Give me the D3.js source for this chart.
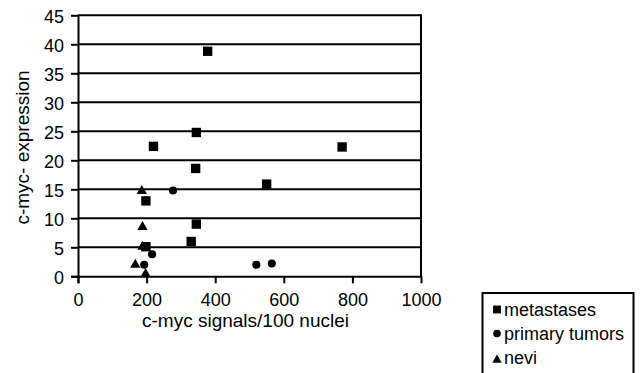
<!DOCTYPE html>
<html>
<head>
<meta charset="utf-8">
<script src="https://cdn.jsdelivr.net/npm/d3@7"></script>
<style>
  body { margin: 0; background: #fff; }
  text { font-family: "Liberation Sans", Arial, Helvetica, sans-serif; fill: #000; }
</style>
</head>
<body>
<svg id="chartSVG" width="643" height="373"></svg>
<script>
const xTicks = [0, 200, 400, 600, 800, 1000];
const yTicks = [0, 5, 10, 15, 20, 25, 30, 35, 40, 45];

const metastasesX = [378, 345, 220, 343, 550, 198, 345, 330, 198, 770];
const metastasesY = [38.8, 24.8, 22.4, 18.6, 15.9, 13.0, 9.0, 6.0, 5.1, 22.3];

const primaryX = [277, 216, 193, 520, 565];
const primaryY = [14.8, 3.8, 2.0, 2.0, 2.2];

const neviX = [186, 188, 188, 167, 197];
const neviY = [14.7, 8.5, 5.1, 2.0, 0.4];

const seriesNames = ["metastases", "primary tumors", "nevi"];

function drawChart() {
  let svg = d3.select("#chartSVG");

  let x = d3.scaleLinear().domain([0, 1000]).range([78, 421]);
  let y = d3.scaleLinear().domain([0, 45]).range([276.3, 15.3]);

  // horizontal grid lines (black, like the original)
  svg.append("g")
    .selectAll("line")
    .data(yTicks.slice(1))
    .enter()
    .append("line")
    .attr("x1", x(0))
    .attr("x2", x(1000))
    .attr("y1", (d) => y(d))
    .attr("y2", (d) => y(d))
    .style("stroke", "#000")
    .style("stroke-width", 2);

  // right frame line
  svg.append("line")
    .attr("x1", x(1000)).attr("x2", x(1000))
    .attr("y1", y(45) - 1).attr("y2", y(0))
    .style("stroke", "#000")
    .style("stroke-width", 2);

  let xAxis = svg.append("g")
    .attr("transform", `translate(0,${y(0)})`)
    .call(d3.axisBottom(x).tickValues(xTicks).tickSize(7).tickPadding(10).tickFormat(d3.format("d")));

  let yAxis = svg.append("g")
    .attr("transform", `translate(${x(0)},0)`)
    .call(d3.axisLeft(y).tickValues(yTicks).tickSize(7).tickPadding(7));

  [xAxis, yAxis].forEach((g) => {
    g.select(".domain").style("stroke", "#000").style("stroke-width", 2);
    g.selectAll(".tick line").style("stroke", "#000").style("stroke-width", 2);
    g.selectAll(".tick text")
      .style("font-size", "18px")
      .style("font-family", '"Liberation Sans", Arial, sans-serif');
  });
  xAxis.select(".domain").attr("d", `M${x(0) - 7},0.5H${x(1000) + 1}`);
  yAxis.select(".domain").attr("d", `M0.5,${y(45)}V${y(0) + 7}`);
  yAxis.selectAll(".tick text").attr("dy", "0.42em");

  // axis titles
  svg.append("text")
    .attr("x", 245.5)
    .attr("y", 327)
    .attr("text-anchor", "middle")
    .style("font-size", "19px")
    .text("c-myc signals/100 nuclei");

  svg.append("text")
    .attr("transform", "translate(28.5,147.5) rotate(-90)")
    .attr("text-anchor", "middle")
    .style("font-size", "19px")
    .text("c-myc- expression");

  let series = [
    { name: seriesNames[0], xs: metastasesX, ys: metastasesY, shape: d3.symbolSquare, size: 88 },
    { name: seriesNames[1], xs: primaryX, ys: primaryY, shape: d3.symbolCircle, size: 52 },
    { name: seriesNames[2], xs: neviX, ys: neviY, shape: d3.symbolTriangle, size: 46 },
  ];

  series.forEach((s) => {
    let pts = s.xs.map((v, i) => ({ x: v, y: s.ys[i] }));
    svg.append("g")
      .selectAll("path")
      .data(pts)
      .enter()
      .append("path")
      .attr("d", d3.symbol().type(s.shape).size(s.size))
      .attr("transform", (d) => `translate(${x(d.x)},${y(d.y)})`)
      .style("fill", "#000");
  });

  // legend box (runs off the bottom edge like the reference)
  let legend = svg.append("g");
  legend.append("rect")
    .attr("x", 482.5)
    .attr("y", 293)
    .attr("width", 151)
    .attr("height", 100)
    .style("fill", "#fff")
    .style("stroke", "#000")
    .style("stroke-width", 2);

  let legendSizes = [62, 46, 38];
  let rows = legend.selectAll("g.row")
    .data(series)
    .enter()
    .append("g")
    .attr("class", "row")
    .attr("transform", (d, i) => `translate(0,${316 + i * 24})`);

  rows.append("path")
    .attr("d", (d, i) => d3.symbol().type(d.shape).size(legendSizes[i])())
    .attr("transform", (d, i) => `translate(497,${i === 2 ? -4 : -6.5})`)
    .style("fill", "#000");

  rows.append("text")
    .attr("x", 504)
    .attr("y", 0)
    .style("font-size", "18px")
    .text((d) => d.name);
}

drawChart();
</script>
</body>
</html>
